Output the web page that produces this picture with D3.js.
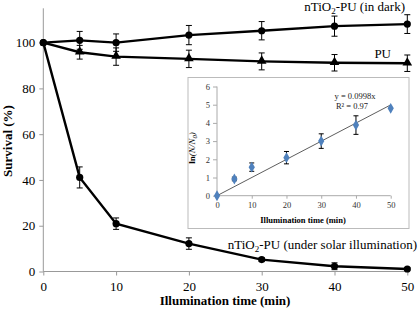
<!DOCTYPE html>
<html><head><meta charset="utf-8">
<script src="https://cdn.jsdelivr.net/npm/d3@7"></script>
<style>body{margin:0;background:#fff}svg{display:block}text{font-family:"Liberation Serif","Times New Roman",serif}</style>
</head><body>
<svg id="c" width="419" height="309"></svg>
<script>
const times = [0,5,10,20,30,40,50];
const darkVals = [100,101,100,103.3,105.2,107.2,108.1];
const darkErr = [0,3.9,3.8,4.2,4.0,4.4,4.1];
const puVals = [100,95.8,93.9,92.9,91.8,91.2,91.0];
const puErr = [0,3,3.8,3.8,3.7,3.6,3.6];
const solarVals = [100,41.1,20.9,12.2,5.2,2.3,1.1];
const solarErr = [0,4.6,2.5,2.5,0.8,1.5,0.5];
const yTicks = [0,20,40,60,80,100];
const xTicks = [0,10,20,30,40,50];
const insetVals = [0,0.92,1.57,2.09,3.0,3.88,4.8];
const insetErr = [0,0.1,0.23,0.34,0.4,0.51,0];
const insetYTicks = [0,1,2,3,4,5,6];
const slope = 0.0998;

const svg = d3.select("#c");
const x = d3.scaleLinear().domain([0,50]).range([43.3,407.3]);
const y = d3.scaleLinear().domain([0,115]).range([271.5,8.3]);

// axes
const xa = svg.append("g").attr("transform","translate(0,271.5)")
  .call(d3.axisBottom(x).tickValues(xTicks).tickSize(4).tickPadding(6));
xa.attr("font-family",null);
xa.select(".domain").attr("stroke","#999").attr("d","M43.3,0H407.3");
xa.selectAll(".tick line").attr("stroke","#999");
xa.selectAll("text").attr("font-size",13).attr("fill","#000");
const ya = svg.append("g").attr("transform","translate(43.3,0)")
  .call(d3.axisLeft(y).tickValues(yTicks).tickSize(4).tickPadding(4));
ya.attr("font-family",null);
ya.select(".domain").attr("stroke","#999").attr("d","M0,271.5V8.3");
ya.selectAll(".tick line").attr("stroke","#999");
ya.selectAll("text").attr("font-size",13).attr("fill","#000");

svg.append("text").attr("x",225).attr("y",305).attr("text-anchor","middle")
  .attr("font-size",13).attr("font-weight","bold").text("Illumination time (min)");
svg.append("text").attr("transform","translate(12,141) rotate(-90)").attr("text-anchor","middle")
  .attr("font-size",13).attr("font-weight","bold").text("Survival (%)");

// inset
const ix = d3.scaleLinear().domain([0,50]).range([217,390.7]);
const iy = d3.scaleLinear().domain([0,6]).range([195.7,86.5]);
svg.append("rect").attr("x",188).attr("y",77.5).attr("width",221).attr("height",151)
  .attr("fill","#fff").attr("stroke","#bbb").attr("stroke-width",1);

function series(vals, errs, xs, ys, g, cap) {
  vals.forEach((v,i)=>{
    if(errs[i]>0){
      const xx = xs(times[i]);
      g.append("path").attr("d",`M${xx},${ys(v-errs[i])}V${ys(v+errs[i])}M${xx-cap},${ys(v-errs[i])}h${2*cap}M${xx-cap},${ys(v+errs[i])}h${2*cap}`)
        .attr("stroke","#000").attr("stroke-width",1).attr("fill","none");
    }
  });
}
const main = svg.append("g");
const line = (vals)=>d3.line().x((d,i)=>x(times[i])).y(d=>y(d))(vals);
[darkVals,puVals,solarVals].forEach(v=>{
  main.append("path").attr("d",line(v)).attr("fill","none").attr("stroke","#000").attr("stroke-width",2.4);
});
series(darkVals,darkErr,x,y,main,3);
series(puVals,puErr,x,y,main,3);
series(solarVals,solarErr,x,y,main,3);
darkVals.forEach((v,i)=>main.append("circle").attr("cx",x(times[i])).attr("cy",y(v)).attr("r",3.6).attr("fill","#000"));
solarVals.forEach((v,i)=>main.append("circle").attr("cx",x(times[i])).attr("cy",y(v)).attr("r",3.6).attr("fill","#000"));
const tri = d3.symbol().type(d3.symbolTriangle).size(40);
puVals.forEach((v,i)=>{ if(i>0) main.append("path").attr("d",tri()).attr("transform",`translate(${x(times[i])},${y(v)-0.5})`).attr("fill","#000"); });

// labels
const t1 = svg.append("text").attr("x",405).attr("y",11).attr("text-anchor","end").attr("font-size",13);
t1.append("tspan").text("nTiO");
t1.append("tspan").attr("font-size",9).attr("dy",3).text("2");
t1.append("tspan").attr("dy",-3).text("-PU (in dark)");
svg.append("text").attr("x",391).attr("y",58).attr("text-anchor","end").attr("font-size",13).text("PU");
const t3 = svg.append("text").attr("x",417).attr("y",249).attr("text-anchor","end").attr("font-size",13);
t3.append("tspan").text("nTiO");
t3.append("tspan").attr("font-size",9).attr("dy",3).text("2");
t3.append("tspan").attr("dy",-3).text("-PU (under solar illumination)");

// inset axes
const ig = svg.append("g");
const ixa = ig.append("g").attr("transform","translate(0,195.7)")
  .call(d3.axisBottom(ix).tickValues(xTicks).tickSize(3).tickPadding(3));
ixa.attr("font-family",null);
ixa.select(".domain").attr("stroke","#aaa").attr("d","M217,0H390.7");
ixa.selectAll(".tick line").attr("stroke","#aaa");
ixa.selectAll("text").attr("font-size",8.5).attr("fill","#333");
const iya = ig.append("g").attr("transform","translate(217,0)")
  .call(d3.axisLeft(iy).tickValues(insetYTicks).tickFormat(d3.format("d")).tickSize(4).tickPadding(3));
iya.attr("font-family",null);
iya.select(".domain").attr("stroke","#aaa").attr("d","M0,195.7V86.5");
iya.selectAll(".tick line").attr("stroke","#aaa");
iya.selectAll("text").attr("font-size",8.5).attr("fill","#333");
ig.append("text").attr("x",303).attr("y",223).attr("text-anchor","middle").attr("font-size",8.5).attr("font-weight","bold").text("Illumination time (min)");
const yt = ig.append("text").attr("transform","translate(195,148) rotate(-90)").attr("text-anchor","middle").attr("font-size",9);
yt.append("tspan").attr("font-weight","bold").text("ln");
yt.append("tspan").attr("font-style","italic").text("(N/N");
yt.append("tspan").attr("font-style","italic").attr("font-size",6.5).attr("dy",2).text("0");
yt.append("tspan").attr("font-style","italic").attr("dy",-2).text(")");

ig.append("path").attr("d",`M${ix(0)},${iy(0)}L${ix(50)},${iy(slope*50)}`).attr("stroke","#333").attr("stroke-width",0.8);
series(insetVals,insetErr,ix,iy,ig,2.5);
const dia = d3.symbol().type(d3.symbolDiamond).size(34);
insetVals.forEach((v,i)=>ig.append("path").attr("d",dia()).attr("transform",`translate(${ix(times[i])},${iy(v)})`).attr("fill","#4f81bd"));
ig.append("text").attr("x",355).attr("y",99).attr("text-anchor","middle").attr("font-size",8.5).attr("fill","#222").text("y = 0.0998x");
ig.append("text").attr("x",352).attr("y",109).attr("text-anchor","middle").attr("font-size",8.5).attr("fill","#222").text("R² = 0.97");
</script>
</body></html>
